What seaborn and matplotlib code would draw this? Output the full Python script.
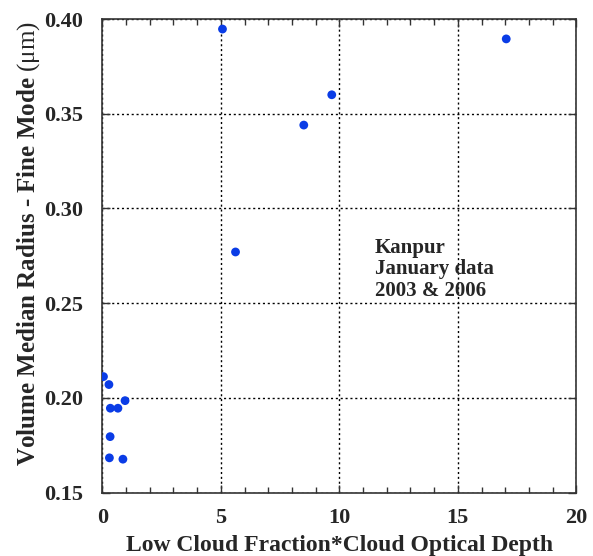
import matplotlib
matplotlib.use('Agg')
import matplotlib.pyplot as plt
from matplotlib.ticker import MultipleLocator
import pandas as pd
import seaborn as sns

# Kanpur, January data (2003 & 2006)
cloud_x = [0.05, 0.28, 0.96, 0.34, 0.66, 0.33, 0.30, 0.87,
           5.07, 5.62, 8.50, 9.68, 17.04]
radius_fine = [0.2112, 0.2070, 0.1985, 0.1945, 0.1945, 0.1795, 0.1683, 0.1676,
               0.3947, 0.2770, 0.3440, 0.3600, 0.3895]

df = pd.DataFrame({'x': cloud_x, 'y': radius_fine})

sns.set_style('ticks')
plt.rcParams['font.family'] = ['Liberation Serif', 'DejaVu Serif']
plt.rcParams['mathtext.fontset'] = 'custom'
plt.rcParams['mathtext.rm'] = 'Liberation Serif'
plt.rcParams['mathtext.it'] = 'Liberation Serif:italic'
plt.rcParams['mathtext.bf'] = 'Liberation Serif:bold'

fig = plt.figure(figsize=(5.93, 5.56), dpi=100)
ax = fig.add_axes([0.1725, 0.1142, 0.7995, 0.8516])

sns.scatterplot(data=df, x='x', y='y', ax=ax, color='#0a3ce6', s=40,
                edgecolor='none', zorder=3)

ax.set_xlim(0, 20)
ax.set_ylim(0.15, 0.40)
ax.xaxis.set_major_locator(MultipleLocator(5))
ax.xaxis.set_minor_locator(MultipleLocator(1))
ax.yaxis.set_major_locator(MultipleLocator(0.05))
ax.yaxis.set_major_formatter(plt.FormatStrFormatter('%.2f'))

ax.grid(True, which='major', color='black', linestyle=(0, (1.5, 2)), linewidth=1.0)
ax.tick_params(which='both', direction='in', top=True, right=True, color='#333333')
ax.tick_params(which='major', length=6, width=1)
ax.tick_params(which='minor', length=4, width=1)
ax.tick_params(axis='x', which='major', pad=11, labelsize=16)
ax.tick_params(axis='y', which='major', pad=14, labelsize=16)
for lab in ax.get_xticklabels() + ax.get_yticklabels():
    lab.set_fontweight('bold')
for sp in ax.spines.values():
    sp.set_linewidth(1.2)
    sp.set_color('#333333')

ax.set_xlabel('Low Cloud Fraction*Cloud Optical Depth', fontsize=17,
              fontweight='bold', labelpad=5)
ax.set_ylabel('Volume Median Radius - Fine Mode ' + r'$\mathrm{(\mu m)}$',
              fontsize=18, fontweight='bold')
ax.yaxis.set_label_coords(-0.128, 0.526)

ax.text(11.5, 0.2845, 'Kanpur\nJanuary data\n2003 & 2006', fontsize=15,
        fontweight='bold', va='top', ha='left', linespacing=1.1)

fig.savefig('out.png', dpi=100)
